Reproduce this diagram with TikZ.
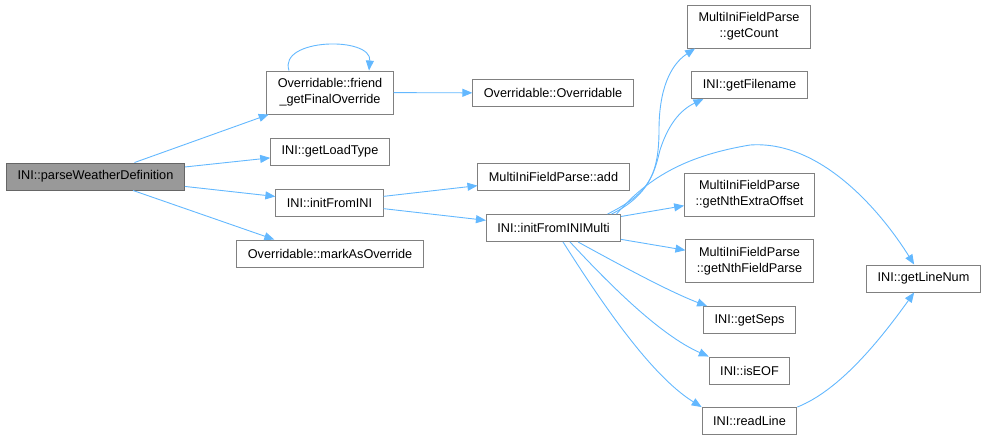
\documentclass[tikz,border=0pt]{standalone}
\usepackage{fontspec}
\setmainfont{Liberation Sans}
\usepackage{tikz}
\usetikzlibrary{arrows.meta,positioning,calc}
\definecolor{edgeblue}{HTML}{63B8FF}
\definecolor{boxline}{HTML}{808080}
\definecolor{rootfill}{HTML}{999999}

\begin{document}
\begin{tikzpicture}[x=1pt,y=-1pt,>={Triangle[length=10pt,width=8pt]},
  every node/.style={font=\fontsize{12.7}{16}\selectfont},
  fn/.style={draw=boxline,line width=0.9pt,fill=white,inner xsep=11pt,minimum height=27pt,align=center},
  fn2/.style={fn,minimum height=43pt},
  root/.style={fn,fill=rootfill,draw=black!60},
  call/.style={->,draw=edgeblue,line width=0.9pt}]
  \useasboundingbox (0,0) rectangle (987,440);
  % caller
  \node[root] (parse) at (95.5,176.5) {INI::parseWeatherDefinition};
  % first level
  \node[fn2] (friend) at (330,92.5) {Overridable::friend\\\_getFinalOverride};
  \node[fn] (loadtype) at (330,151.5) {INI::getLoadType};
  \node[fn] (initini) at (329.5,202.5) {INI::initFromINI};
  \node[fn] (mark) at (330,253.5) {Overridable::markAsOverride};
  % second level
  \node[fn] (ctor) at (553,93) {Overridable::Overridable};
  \node[fn] (add) at (553.5,177) {MultiIniFieldParse::add};
  \node[fn] (multi) at (553.5,228) {INI::initFromINIMulti};
  % third level
  \node[fn2] (count) at (749,26.5) {MultiIniFieldParse\\::getCount};
  \node[fn] (fname) at (749.5,85) {INI::getFilename};
  \node[fn2] (extra) at (749.5,194.5) {MultiIniFieldParse\\::getNthExtraOffset};
  \node[fn2] (field) at (749.5,261) {MultiIniFieldParse\\::getNthFieldParse};
  \node[fn] (seps) at (749.5,320) {INI::getSeps};
  \node[fn] (eof) at (749.5,370.5) {INI::isEOF};
  \node[fn] (readline) at (749.5,421) {INI::readLine};
  \node[fn] (linenum) at (923.5,278.5) {INI::getLineNum};

  \draw[call] (parse) -- (friend);
  \draw[call] (parse) -- (loadtype);
  \draw[call] (parse) -- (initini);
  \draw[call] ($(parse.south)+(37.5,0)$) -- ($(mark.north west)+(38,0)$);
  \draw[call] ($(friend.north)+(-41,0)$) .. controls (278,38) and (372,36) .. ($(friend.north)+(39,0)$);
  \draw[call] (friend) -- (ctor);
  \draw[call] (initini) -- (add);
  \draw[call] (initini) -- (multi);
  \draw[call] ($(multi.north)+(54,0)$) .. controls (645,195) and (659,180) .. (659,130)
    .. controls (659,90) and (670,65) .. ($(count.south west)+(8,0)$);
  \draw[call] ($(multi.north)+(58,0)$) .. controls (650,195) and (655,170) .. (660,150)
    .. controls (668,125) and (680,110) .. ($(fname.south west)+(12,0)$);
  \draw[call] ($(multi.north)+(63,0)$) .. controls (650,175) and (690,155) .. (750,145)
    .. controls (820,140) and (880,210) .. ($(linenum.north west)+(48,0)$);
  \draw[call] (multi) -- (extra);
  \draw[call] (multi) -- (field);
  \draw[call] ($(multi.south)+(24.5,0)$) .. controls (620,265) and (670,292) .. ($(seps.north west)+(4,0)$);
  \draw[call] ($(multi.south)+(16.5,0)$) .. controls (610,285) and (660,335) .. (eof.north west);
  \draw[call] ($(multi.south)+(9.5,0)$) .. controls (600,300) and (650,375) .. (readline.north west);
  \draw[call] (readline.north east) .. controls (840,390) and (880,340) .. ($(linenum.south west)+(48,0)$);
\end{tikzpicture}
\end{document}
